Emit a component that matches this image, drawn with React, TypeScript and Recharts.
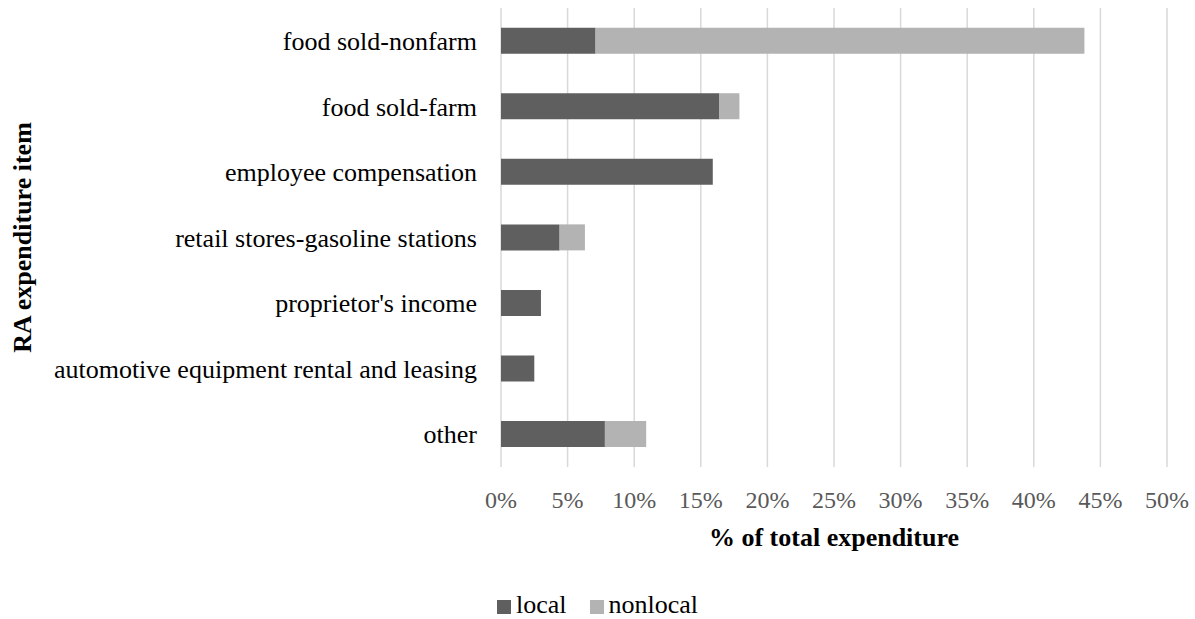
import { BarChart, Bar, XAxis, YAxis, CartesianGrid, Legend } from 'recharts'

const CATEGORIES = [
  'food sold-nonfarm',
  'food sold-farm',
  'employee compensation',
  'retail stores-gasoline stations',
  "proprietor's income",
  'automotive equipment rental and leasing',
  'other',
]

const LOCAL = [7.1, 16.4, 15.9, 4.4, 3.0, 2.5, 7.8]
const NONLOCAL = [36.7, 1.5, 0, 1.9, 0, 0, 3.1]

const X_TICKS = [0, 5, 10, 15, 20, 25, 30, 35, 40, 45, 50]

const SERIES = [
  { key: 'local', label: 'local', color: '#5f5f5f' },
  { key: 'nonlocal', label: 'nonlocal', color: '#b3b3b3' },
]

const FONT = 'Liberation Serif, Times New Roman, serif'

const data = CATEGORIES.map((name, i) => ({
  name,
  local: LOCAL[i],
  nonlocal: NONLOCAL[i],
}))

function LegendContent() {
  return (
    <div
      style={{
        display: 'flex',
        justifyContent: 'center',
        alignItems: 'center',
        height: 26,
        lineHeight: '26px',
        fontFamily: FONT,
        fontSize: 26,
        color: '#000',
      }}
    >
      {SERIES.map((s, i) => (
        <div
          key={s.key}
          style={{
            display: 'flex',
            alignItems: 'center',
            marginRight: i < SERIES.length - 1 ? 23 : 0,
          }}
        >
          <span
            style={{
              display: 'inline-block',
              width: 14,
              height: 14,
              background: s.color,
              marginRight: 5,
              marginTop: 3,
            }}
          />
          <span>{s.label}</span>
        </div>
      ))}
    </div>
  )
}

export default function App() {
  return (
    <div
      style={{
        position: 'absolute',
        left: 0,
        top: 0,
        background: '#fff',
        fontFamily: FONT,
      }}
    >
      <BarChart
        width={1195}
        height={619}
        data={data}
        layout="vertical"
        margin={{ top: 8, right: 28, left: 0, bottom: 72 }}
        barCategoryGap="30%"
        style={{ fontFamily: FONT }}
      >
        <CartesianGrid horizontal={false} stroke="#d9d9d9" strokeWidth={1.5} />
        <XAxis
          type="number"
          domain={[0, 50]}
          ticks={X_TICKS}
          tickFormatter={(v) => `${v}%`}
          axisLine={false}
          tickLine={false}
          tickSize={0}
          tickMargin={24}
          height={80}
          interval={0}
          tick={{ fill: '#595959', fontSize: 24, fontFamily: FONT, style: { fontFamily: FONT } }}
          label={{
            value: '% of total expenditure',
            position: 'insideBottom',
            offset: 1,
            fill: '#000',
            fontSize: 26,
            fontWeight: 'bold',
            fontFamily: FONT,
          }}
        />
        <YAxis
          type="category"
          dataKey="name"
          width={501}
          axisLine={false}
          tickLine={false}
          tickSize={0}
          tickMargin={24}
          interval={0}
          tick={{ fill: '#000', fontSize: 26, fontFamily: FONT, style: { fontFamily: FONT } }}
          label={{
            value: 'RA expenditure item',
            angle: -90,
            position: 'insideLeft',
            offset: 22,
            fill: '#000',
            fontSize: 26,
            fontWeight: 'bold',
            fontFamily: FONT,
            style: { textAnchor: 'middle', fontFamily: FONT },
          }}
        />
        {SERIES.map((s) => (
          <Bar
            key={s.key}
            dataKey={s.key}
            name={s.label}
            stackId="a"
            fill={s.color}
            isAnimationActive={false}
          />
        ))}
        <Legend
          verticalAlign="middle"
          align="center"
          content={<LegendContent />}
          wrapperStyle={{ top: 592, left: 0, width: 1195 }}
        />
      </BarChart>
    </div>
  )
}
